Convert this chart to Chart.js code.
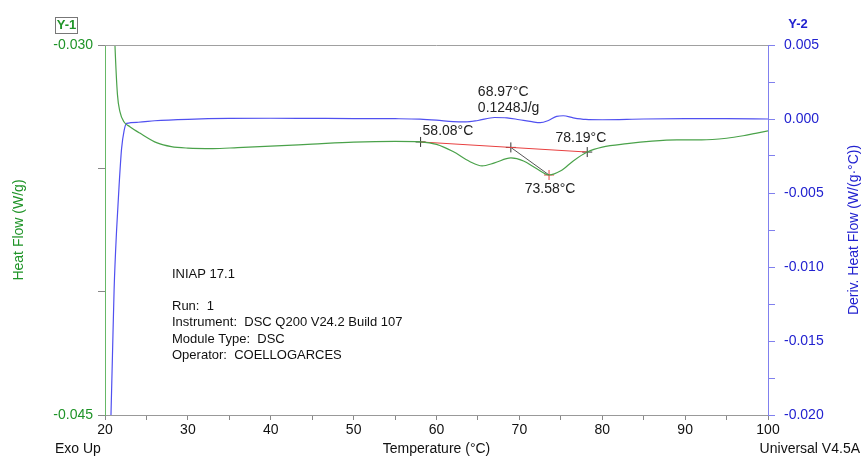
<!DOCTYPE html>
<html>
<head>
<meta charset="utf-8">
<script src="https://cdn.jsdelivr.net/npm/chart.js@4.4.0/dist/chart.umd.min.js"></script>
<style>
html, body { margin: 0; padding: 0; background: #fff; }
</style>
</head>
<body>
<canvas id="myChart" width="863" height="456"></canvas>
<script>
// Heat Flow (W/g) - left axis
var hfTemp = [21.0, 21.2, 21.5, 21.8, 22.3, 23.0, 24.2, 26.3, 28.0, 30, 33, 36, 40, 45, 50, 55, 58.08, 60, 62, 64, 65.5, 67, 68.97, 70.5, 72, 73.58, 75, 76.5, 78.19, 80, 83, 86, 89, 92, 95, 97, 98.5, 100];
var hfVal  = [-0.0280, -0.0300, -0.0320, -0.0327, -0.03312, -0.03331, -0.03357, -0.03397, -0.03412, -0.03418, -0.03420, -0.03416, -0.03410, -0.03402, -0.03394, -0.03391, -0.03393, -0.03403, -0.03432, -0.03472, -0.03490, -0.03478, -0.03458, -0.03470, -0.03500, -0.03527, -0.03510, -0.03470, -0.03434, -0.03414, -0.03400, -0.03390, -0.03385, -0.03385, -0.03378, -0.03368, -0.03358, -0.03348];

// Deriv. Heat Flow (W/(g·°C)) - right axis
var dTemp = [20.7, 20.9, 21.1, 21.4, 21.7, 22.0, 22.3, 22.6, 24, 26, 30, 35, 40, 45, 50, 55, 58, 60, 62, 63.5, 65, 67, 68.5, 70, 71.5, 72.5, 73.5, 74.5, 75.3, 76.5, 78, 80, 85, 90, 95, 100];
var dVal  = [-0.0205, -0.0160, -0.0115, -0.0075, -0.0045, -0.0020, -0.0008, -0.0003, -0.00022, -0.00012, -0.00002, 0.00004, 0.00005, 0.00004, 0.00003, 0.00002, -0.00001, -0.00008, -0.00018, -0.00020, -0.00010, 0.00010, 0.00008, -0.00005, -0.00018, -0.00025, -0.00010, 0.00018, 0.00022, 0.00008, -0.00003, -0.00005, 0.00000, 0.00002, 0.00002, 0.00000];

// peak analysis
var onsetT = 58.08, endT = 78.19, peakT = 73.58, midT = 68.97;
var onsetV = -0.03393, endV = -0.03434, peakV = -0.03527;
var midV = onsetV + (endV - onsetV) * (midT - onsetT) / (endT - onsetT);

var infoLines = ["Run:  1", "Instrument:  DSC Q200 V24.2 Build 107", "Module Type:  DSC", "Operator:  COELLOGARCES"];

var GREEN = "#1f9428", BLUE = "#2222d0";
var FONT = "'Liberation Sans', Arial, sans-serif";

function pts(xs, ys) {
  var out = [];
  for (var i = 0; i < xs.length; i++) out.push({ x: xs[i], y: ys[i] });
  return out;
}

// texte libre
var dscText = {
  id: "dscText",
  afterDraw: function (chart) {
    var c = chart.ctx, a = chart.chartArea, sx = chart.scales.x, sy = chart.scales.yL;
    c.save();
    c.strokeStyle = "#a0a0a0"; c.lineWidth = 1;
    c.beginPath(); c.moveTo(a.left, a.top + 0.5); c.lineTo(a.right, a.top + 0.5); c.stroke();

    c.textBaseline = "middle";
    c.font = "bold 13px " + FONT;
    c.strokeStyle = "#777";
    c.strokeRect(55.5, 17.5, 22, 16);
    c.fillStyle = GREEN; c.textAlign = "center";
    c.fillText("Y-1", 66.5, 25.5);
    c.fillStyle = BLUE;
    c.fillText("Y-2", 798, 24);

    c.font = "14px " + FONT;
    c.fillStyle = "#111";
    c.textAlign = "left"; c.fillText("Exo Up", 55, 449);
    c.textAlign = "center"; c.fillText("Temperature (°C)", (a.left + a.right) / 2, 449);
    c.textAlign = "right"; c.fillText("Universal V4.5A", 860, 449);

    c.save();
    c.translate(19, (a.top + a.bottom) / 2); c.rotate(-Math.PI / 2);
    c.textAlign = "center"; c.fillStyle = GREEN; c.fillText("Heat Flow (W/g)", 0, 0);
    c.restore();
    c.save();
    c.translate(854, (a.top + a.bottom) / 2); c.rotate(-Math.PI / 2);
    c.textAlign = "center"; c.fillStyle = BLUE; c.fillText("Deriv. Heat Flow (W/(g·°C))", 0, 0);
    c.restore();

    // annotations du pic
    c.fillStyle = "#222"; c.font = "14px " + FONT;
    c.textAlign = "left";
    c.fillText(onsetT.toFixed(2) + "°C", sx.getPixelForValue(onsetT) + 2, sy.getPixelForValue(onsetV) - 11);
    c.textAlign = "right";
    c.fillText(endT.toFixed(2) + "°C", sx.getPixelForValue(endT) + 19, sy.getPixelForValue(endV) - 14);
    c.textAlign = "center";
    c.fillText(peakT.toFixed(2) + "°C", sx.getPixelForValue(peakT) + 1, sy.getPixelForValue(peakV) + 14);
    c.textAlign = "left";
    var mx = sx.getPixelForValue(midT) - 33;
    c.fillText(midT.toFixed(2) + "°C", mx, 92);
    c.fillText("0.1248J/g", mx, 108);

    c.font = "13px " + FONT; c.fillStyle = "#111";
    c.fillText("INIAP 17.1", 172, 274);
    for (var i = 0; i < infoLines.length; i++) c.fillText(infoLines[i], 172, 306 + i * 16.5);
    c.restore();
  }
};

var ctx = document.getElementById("myChart");
var chart = new Chart(ctx, {
  type: "scatter",
  data: {
    datasets: [
      { data: pts(hfTemp, hfVal), yAxisID: "yL", showLine: true, borderColor: "#4aa24a", borderWidth: 1.2, pointRadius: 0, cubicInterpolationMode: "monotone" },
      { data: pts(dTemp, dVal), yAxisID: "yR", showLine: true, borderColor: "#5050f0", borderWidth: 1.2, pointRadius: 0, cubicInterpolationMode: "monotone" },
      { data: pts([onsetT, endT], [onsetV, endV]), yAxisID: "yL", showLine: true, borderColor: "#e84040", borderWidth: 1, pointRadius: 0 },
      { data: pts([midT, peakT], [midV, peakV]), yAxisID: "yL", showLine: true, borderColor: "#555", borderWidth: 1, pointRadius: 0 },
      { data: pts([onsetT, midT, endT], [onsetV, midV, endV]), yAxisID: "yL", pointStyle: "cross", pointRadius: 5, borderColor: "#333", borderWidth: 1 },
      { data: pts([peakT], [peakV]), yAxisID: "yL", pointStyle: "cross", pointRadius: 5, borderColor: "#e84040", borderWidth: 1 }
    ]
  },
  options: {
    responsive: false,
    animation: false,
    devicePixelRatio: 1,
    layout: { padding: { top: 45, left: 0, right: 0, bottom: 0 } },
    plugins: { legend: { display: false }, tooltip: { enabled: false } },
    scales: {
      x: {
        type: "linear", min: 20, max: 100,
        border: { color: "#999" },
        grid: { drawOnChartArea: false, tickLength: 5, color: "#888" },
        ticks: {
          stepSize: 5, color: "#111", font: { family: FONT, size: 14 }, padding: 2, maxRotation: 0,
          callback: function (v) { return Math.round(v) % 10 === 0 ? String(Math.round(v)) : ""; }
        },
        afterFit: function (s) { s.height = 41; }
      },
      yL: {
        type: "linear", position: "left", min: -0.045, max: -0.030,
        border: { color: "#66b866" },
        grid: { drawOnChartArea: false, tickLength: 7, color: "#888" },
        ticks: {
          stepSize: 0.005, color: GREEN, font: { family: FONT, size: 14 }, padding: 5,
          callback: function (v) {
            var k = Math.round(v * 1000);
            return (k === -30 || k === -45) ? (k / 1000).toFixed(3) : "";
          }
        },
        afterFit: function (s) { s.width = 105; }
      },
      yR: {
        type: "linear", position: "right", min: -0.020, max: 0.005,
        border: { color: "#8080ee" },
        grid: { drawOnChartArea: false, tickLength: 7, color: "#8080ee" },
        ticks: {
          stepSize: 0.0025, color: BLUE, font: { family: FONT, size: 14 }, padding: 9,
          callback: function (v) {
            var k = Math.round(v * 10000);
            return k % 50 === 0 ? (Math.round(v * 1000) / 1000).toFixed(3) : "";
          }
        },
        afterFit: function (s) { s.width = 95; }
      }
    }
  },
  plugins: [dscText]
});
</script>
</body>
</html>
